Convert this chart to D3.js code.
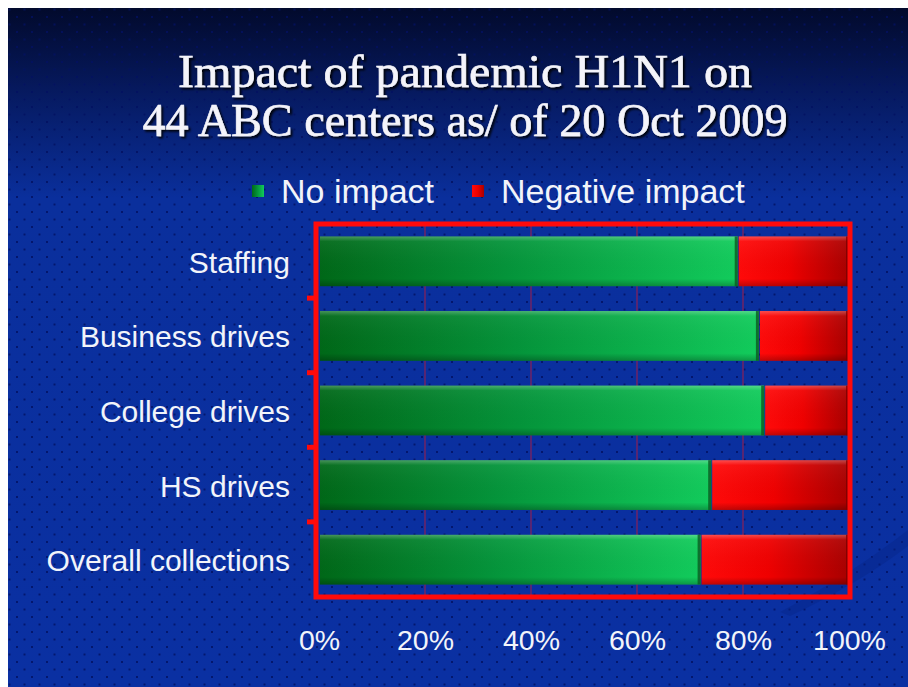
<!DOCTYPE html>
<html lang="en">
<head>
<meta charset="UTF-8">
<title>Impact of pandemic H1N1</title>
<script src="https://d3js.org/d3.v7.min.js"></script>
<style>
  html, body { margin: 0; padding: 0; background: #fff; }
  svg { display: block; }
</style>
</head>
<body>
<div id="chart"></div>
<script>
const categories = ['Staffing', 'Business drives', 'College drives', 'HS drives', 'Overall collections'];
const seriesNames = ['No impact', 'Negative impact'];
const noImpact = [79, 83, 84, 74, 72];
const negativeImpact = [21, 17, 16, 26, 28];
const xTicks = [0, 20, 40, 60, 80, 100];
const titleLines = ['Impact of pandemic H1N1 on', '44 ABC centers as/ of 20 Oct 2009'];

const W = 908, H = 687;
const plot = { left: 319, right: 849, top: 224, bottom: 597 };

const svg = d3.select('#chart').append('svg')
  .attr('width', W).attr('height', H);
const defs = svg.append('defs');

// background gradient, dark navy at the top into blue
const bg = defs.append('linearGradient').attr('id', 'bg')
  .attr('x1', 0).attr('y1', 0).attr('x2', 0).attr('y2', 1);
bg.append('stop').attr('offset', '0%').attr('stop-color', '#020a2c');
bg.append('stop').attr('offset', '12%').attr('stop-color', '#06195e');
bg.append('stop').attr('offset', '28%').attr('stop-color', '#0a2f9c');
bg.append('stop').attr('offset', '100%').attr('stop-color', '#0a30a2');

// dither dots
const dots = defs.append('pattern').attr('id', 'dots')
  .attr('width', 15).attr('height', 15).attr('patternUnits', 'userSpaceOnUse');
dots.append('rect').attr('x', 1).attr('y', 1).attr('width', 2).attr('height', 2).attr('fill', '#021060').attr('opacity', 0.8);
dots.append('rect').attr('x', 8.5).attr('y', 8.5).attr('width', 2).attr('height', 2).attr('fill', '#021060').attr('opacity', 0.8);

const gGreen = defs.append('linearGradient').attr('id', 'green');
gGreen.append('stop').attr('offset', '0%').attr('stop-color', '#006818');
gGreen.append('stop').attr('offset', '45%').attr('stop-color', '#04943a');
gGreen.append('stop').attr('offset', '100%').attr('stop-color', '#12cc5c');

const gRed = defs.append('linearGradient').attr('id', 'red');
gRed.append('stop').attr('offset', '0%').attr('stop-color', '#ff0a0a');
gRed.append('stop').attr('offset', '45%').attr('stop-color', '#f00000');
gRed.append('stop').attr('offset', '100%').attr('stop-color', '#a80000');

const shade = defs.append('linearGradient').attr('id', 'shade')
  .attr('x1', 0).attr('y1', 0).attr('x2', 0).attr('y2', 1);
shade.append('stop').attr('offset', '0%').attr('stop-color', '#fff').attr('stop-opacity', 0.28);
shade.append('stop').attr('offset', '10%').attr('stop-color', '#fff').attr('stop-opacity', 0.05);
shade.append('stop').attr('offset', '85%').attr('stop-color', '#000').attr('stop-opacity', 0);
shade.append('stop').attr('offset', '100%').attr('stop-color', '#000').attr('stop-opacity', 0.25);

const shadow = defs.append('filter').attr('id', 'tshadow')
  .attr('x', '-5%').attr('y', '-20%').attr('width', '110%').attr('height', '140%');
shadow.append('feDropShadow').attr('dx', 2).attr('dy', 2).attr('stdDeviation', 0.8)
  .attr('flood-color', '#000').attr('flood-opacity', 0.9);

svg.append('rect').attr('x', 8).attr('y', 8).attr('width', W - 8).attr('height', H - 8).attr('fill', 'url(#bg)');
svg.append('rect').attr('x', 8).attr('y', 8).attr('width', W - 8).attr('height', H - 8).attr('fill', 'url(#dots)');

// faint swoosh lower right
svg.append('path')
  .attr('d', 'M 780 612 Q 850 575 908 530 L 908 546 Q 860 583 790 616 Z')
  .attr('fill', '#06258a').attr('opacity', 0.45);

// title, condensed to the width of the original serif face
const titleWidths = [574, 645];
svg.append('g').selectAll('text').data(titleLines).join('text')
  .attr('x', 465)
  .attr('y', (d, i) => 87 + i * 49)
  .attr('text-anchor', 'middle')
  .attr('font-family', 'Liberation Serif, serif')
  .attr('font-size', 46)
  .attr('textLength', (d, i) => titleWidths[i])
  .attr('lengthAdjust', 'spacingAndGlyphs')
  .attr('fill', '#f4f4fa')
  .attr('stroke', '#f4f4fa').attr('stroke-width', 0.6)
  .attr('filter', 'url(#tshadow)')
  .text(d => d);

// scales
const x = d3.scaleLinear().domain([0, 100]).range([plot.left, plot.right]);
const y = d3.scaleBand().domain(categories).range([plot.top, plot.bottom])
  .paddingInner(0.333).paddingOuter(0.167);
const color = d3.scaleOrdinal().domain(seriesNames).range(['url(#green)', 'url(#red)']);

// gridlines
svg.append('g').selectAll('line').data(xTicks.slice(1, -1)).join('line')
  .attr('x1', d => x(d)).attr('x2', d => x(d))
  .attr('y1', plot.top).attr('y2', plot.bottom)
  .attr('stroke', '#8a2056').attr('stroke-width', 1.2);

// stacked bars
const rows = categories.map((c, i) => ({ category: c, 'No impact': noImpact[i], 'Negative impact': negativeImpact[i] }));
const stacked = d3.stack().keys(seriesNames)(rows);

const layers = svg.append('g').selectAll('g').data(stacked).join('g')
  .attr('fill', d => color(d.key));
layers.selectAll('rect.bar').data(d => d).join('rect')
  .attr('class', 'bar')
  .attr('x', d => x(d[0]) + 1)
  .attr('y', d => y(d.data.category))
  .attr('width', d => x(d[1]) - x(d[0]) - 1)
  .attr('height', y.bandwidth());
layers.selectAll('rect.shade').data(d => d).join('rect')
  .attr('class', 'shade')
  .attr('x', d => x(d[0]) + 1)
  .attr('y', d => y(d.data.category))
  .attr('width', d => x(d[1]) - x(d[0]) - 1)
  .attr('height', y.bandwidth())
  .attr('fill', 'url(#shade)');
// dark seam at segment ends
layers.selectAll('rect.edge').data(d => d).join('rect')
  .attr('class', 'edge')
  .attr('x', d => x(d[1]) - 3)
  .attr('y', d => y(d.data.category))
  .attr('width', 3)
  .attr('height', y.bandwidth())
  .attr('fill', d => d[1] === 100 ? '#7a0000' : '#0a5a22')
  .attr('opacity', 0.8);

// frame
svg.append('rect')
  .attr('x', plot.left - 3).attr('y', plot.top)
  .attr('width', plot.right - plot.left + 4).attr('height', plot.bottom - plot.top)
  .attr('fill', 'none').attr('stroke', '#ff0a0a').attr('stroke-width', 5);

// category boundary ticks on the left edge
const bounds = categories.slice(1).map(c => y(c) - (y.step() - y.bandwidth()) / 2);
svg.append('g').selectAll('rect').data(bounds).join('rect')
  .attr('x', plot.left - 12).attr('y', d => d - 3)
  .attr('width', 8).attr('height', 5)
  .attr('fill', '#ff0a0a');

// category labels
svg.append('g').selectAll('text').data(categories).join('text')
  .attr('x', 290)
  .attr('y', d => y(d) + y.bandwidth() / 2 + 1)
  .attr('dy', '0.35em')
  .attr('text-anchor', 'end')
  .attr('font-family', 'Liberation Sans, Arial, sans-serif')
  .attr('font-size', 30)
  .attr('fill', '#f2f4fa')
  .text(d => d);

// x axis labels
const xAxis = svg.append('g')
  .attr('transform', `translate(0,${plot.bottom + 30})`)
  .call(d3.axisBottom(x).tickValues(xTicks).tickSize(0).tickFormat(d => d + '%'));
xAxis.select('.domain').remove();
xAxis.selectAll('text')
  .attr('font-family', 'Liberation Sans, Arial, sans-serif')
  .attr('font-size', 28.5)
  .attr('fill', '#f2f4fa');

// legend
const legend = svg.append('g').attr('transform', 'translate(0,191)');
const legendX = [252, 472];
const items = legend.selectAll('g').data(seriesNames).join('g')
  .attr('transform', (d, i) => `translate(${legendX[i]},0)`);
items.append('rect')
  .attr('x', 0).attr('y', -6).attr('width', 12).attr('height', 12)
  .attr('fill', d => color(d));
items.append('text')
  .attr('x', 29).attr('y', 0).attr('dy', '0.35em')
  .attr('font-family', 'Liberation Sans, Arial, sans-serif')
  .attr('font-size', 34)
  .attr('fill', '#f2f4fa')
  .text(d => d);

// white margin on the left and top
svg.append('rect').attr('x', 0).attr('y', 0).attr('width', 8).attr('height', H).attr('fill', '#fff');
svg.append('rect').attr('x', 0).attr('y', 0).attr('width', W).attr('height', 8).attr('fill', '#fff');
</script>
</body>
</html>
